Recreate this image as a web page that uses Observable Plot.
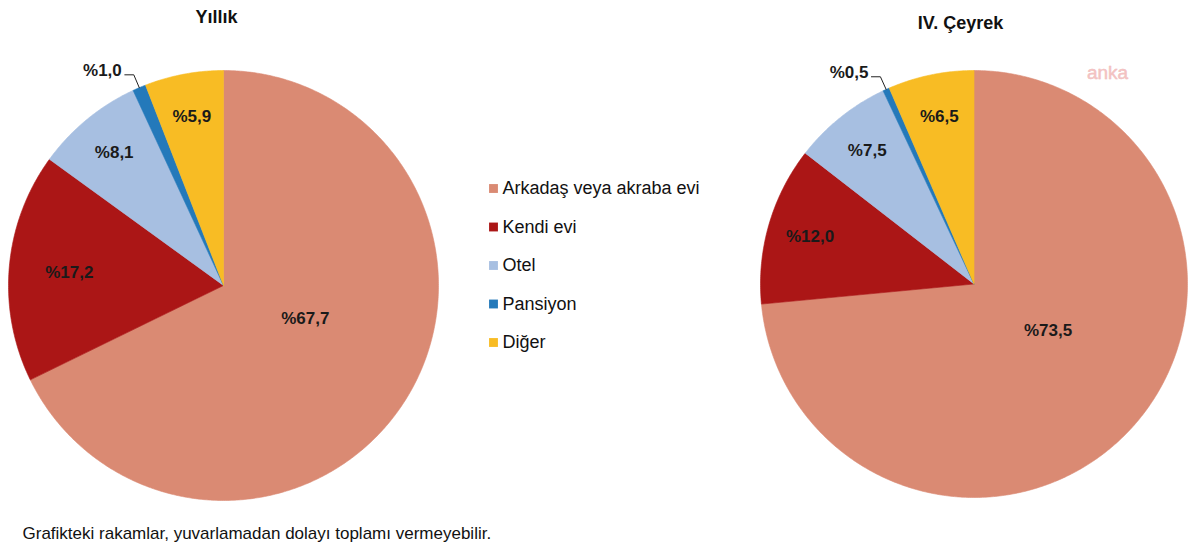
<!DOCTYPE html>
<html>
<head>
<meta charset="utf-8">
<script src="https://cdn.jsdelivr.net/npm/d3@7"></script>
<script src="https://cdn.jsdelivr.net/npm/@observablehq/plot@0.6"></script>
<style>
  html, body { margin: 0; padding: 0; background: #fff; }
  #chart svg { display: block; }
</style>
</head>
<body>
<div id="chart"></div>
<script>
// ---- Data ----
const categories = ["Arkadaş veya akraba evi", "Kendi evi", "Otel", "Pansiyon", "Diğer"];
const yillikValues = [67.7, 17.2, 8.1, 1.0, 5.9];
const ceyrekValues = [73.5, 12.0, 7.5, 0.5, 6.5];
const chartTitles = ["Yıllık", "IV. Çeyrek"];
const footnote = "Grafikteki rakamlar, yuvarlamadan dolayı toplamı vermeyebilir.";
const watermark = "anka";

// ---- Styles / layout ----
const palette = ["#DA8A73", "#AB1616", "#A7BFE1", "#2479BA", "#F8BC24"];
const layout = [
  {cx: 223, cy: 285, r: 215, titleX: 216, titleY: 17},
  {cx: 973.5, cy: 283.5, r: 213.5, titleX: 960, titleY: 23}
];
const font = "'Liberation Sans', Arial, sans-serif";

const series = [yillikValues, ceyrekValues];
const sliceRows = [], labelRows = [], outLabelRows = [], leaderRows = [];
const fmt = v => "%" + v.toFixed(1).replace(".", ",");

series.forEach((vals, p) => {
  const L = layout[p];
  const total = d3.sum(vals);
  const arcs = d3.pie().sort(null).value(d => d)(vals);
  arcs.forEach((a, i) => {
    const key = p + "-" + i;
    const cat = categories[i];
    const n = Math.max(2, Math.ceil((a.endAngle - a.startAngle) / (Math.PI / 360)));
    sliceRows.push({key, cat, x: L.cx, y: L.cy});
    for (let k = 0; k <= n; k++) {
      const t = a.startAngle + (a.endAngle - a.startAngle) * k / n;
      sliceRows.push({key, cat, x: L.cx + L.r * Math.sin(t), y: L.cy - L.r * Math.cos(t)});
    }
    sliceRows.push({key, cat, x: L.cx, y: L.cy});
    const mid = (a.startAngle + a.endAngle) / 2;
    const share = vals[i] / total;
    const pt = (f, ang = mid) => ({x: L.cx + f * L.r * Math.sin(ang), y: L.cy - f * L.r * Math.cos(ang)});
    if (share < 0.02) {
      const e = pt(1.0), el = pt(1.065);
      const end = {x: el.x - 9, y: el.y};
      leaderRows.push({key, ...e}, {key, ...el}, {key, ...end});
      outLabelRows.push({x: end.x - 3, y: end.y - 4, text: fmt(vals[i])});
    } else if (share > 0.5) {
      labelRows.push({...pt(0.41, mid - Math.PI / 18), text: fmt(vals[i])});
    } else {
      const f = share > 0.15 ? 0.72 : 0.8;
      labelRows.push({...pt(f), text: fmt(vals[i])});
    }
  });
});

const legendRows = categories.map((c, i) => ({cat: c, x: 493, y: 188 + i * 38.5}));

const chart = Plot.plot({
  width: 1200,
  height: 559,
  margin: 0,
  x: {domain: [0, 1200], range: [0, 1200], axis: null},
  y: {domain: [0, 559], range: [0, 559], axis: null},
  color: {domain: categories, range: palette},
  style: {fontFamily: font, background: "#fff", color: "#111"},
  marks: [
    Plot.line(sliceRows, {x: "x", y: "y", z: "key", fill: "cat", stroke: "cat", strokeWidth: 0.6, curve: "linear"}),
    Plot.line(leaderRows, {x: "x", y: "y", z: "key", stroke: "#222", strokeWidth: 1}),
    Plot.text(labelRows, {x: "x", y: "y", text: "text", fontSize: 17, fontWeight: "bold", fill: "#1a1a1a", textAnchor: "middle"}),
    Plot.text(outLabelRows, {x: "x", y: "y", text: "text", fontSize: 17, fontWeight: "bold", fill: "#1a1a1a", textAnchor: "end"}),
    Plot.dot(legendRows, {x: "x", y: "y", fill: "cat", symbol: "square", r: 5}),
    Plot.text(legendRows, {x: d => d.x + 9, y: "y", text: "cat", fontSize: 18, fill: "#111", textAnchor: "start"}),
    Plot.text(chartTitles, {x: (d, i) => layout[i].titleX, y: (d, i) => layout[i].titleY, text: d => d, fontSize: 18, fontWeight: "bold", fill: "#111"}),
    Plot.text([footnote], {x: 22, y: 533, text: d => d, fontSize: 17, fill: "#111", textAnchor: "start"}),
    Plot.text([watermark], {x: 1107, y: 72, text: d => d, fontSize: 19, fill: "#f3c2c2", stroke: "#eeb0b0", strokeWidth: 0.4})
  ]
});
document.getElementById("chart").appendChild(chart);
</script>
</body>
</html>
